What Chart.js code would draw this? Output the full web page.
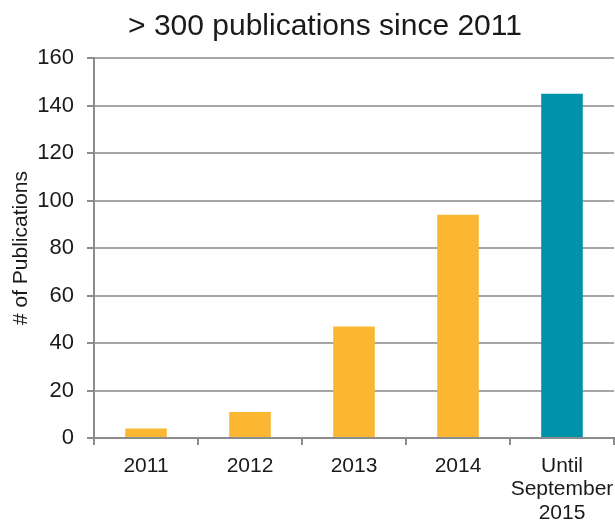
<!DOCTYPE html>
<html>
<head>
<meta charset="utf-8">
<title>Publications since 2011</title>
<script src="https://cdn.jsdelivr.net/npm/chart.js@4/dist/chart.umd.min.js"></script>
<style>
  html, body { margin: 0; padding: 0; background: #fff; }
  #wrap { width: 615px; height: 525px; position: relative; }
</style>
</head>
<body>
<div id="wrap"><canvas id="pubChart"></canvas></div>
<script>
// Data
const categories = ['2011', '2012', '2013', '2014', ['Until', 'September', '2015']];
const publications = [4, 11, 47, 94, 145];
const yMin = 0;
const yMax = 160;
const yStep = 20;
const chartTitle = '> 300 publications since 2011';
const yAxisTitle = '# of Publications';

const colors = {
  past: '#FBB731',
  current: '#0092A8',
  grid: '#a6a6a6',
  axis: '#8c8c8c',
  text: '#1a1a1a'
};
const fontFamily = '"Liberation Sans", Arial, sans-serif';

// Title is centred a bit right of the canvas middle in the original
const offsetTitle = {
  id: 'offsetTitle',
  afterDraw(chart) {
    const ctx = chart.ctx;
    ctx.save();
    ctx.font = '30px ' + fontFamily;
    ctx.fillStyle = colors.text;
    ctx.textAlign = 'center';
    ctx.textBaseline = 'middle';
    ctx.fillText(chartTitle, 325, 27);
    ctx.restore();
  }
};

const ctx = document.getElementById('pubChart').getContext('2d');
new Chart(ctx, {
  type: 'bar',
  data: {
    labels: categories,
    datasets: [{
      data: publications,
      backgroundColor: publications.map((v, i) => i === publications.length - 1 ? colors.current : colors.past),
      barPercentage: 0.4,
      categoryPercentage: 1.0,
      borderWidth: 0
    }]
  },
  options: {
    responsive: true,
    maintainAspectRatio: false,
    animation: false,
    layout: {
      padding: { top: 58, right: 1, bottom: 0, left: 9 }
    },
    plugins: {
      legend: { display: false },
      tooltip: { enabled: false },
      title: { display: false }
    },
    scales: {
      x: {
        offset: true,
        grid: {
          offset: true,
          drawOnChartArea: false,
          drawTicks: true,
          tickLength: 7,
          color: colors.axis,
          lineWidth: 2
        },
        border: { display: true, color: colors.axis, width: 2 },
        ticks: {
          color: colors.text,
          padding: 10,
          maxRotation: 0,
          autoSkip: false,
          font: { family: fontFamily, size: 21, lineHeight: 1.1 }
        },
        afterFit(scale) {
          // the last label may run to the canvas edge, as in the original
          scale.height = 87;
          scale.paddingLeft = 0;
          scale.paddingRight = 0;
        }
      },
      y: {
        min: yMin,
        max: yMax,
        grid: {
          color: colors.grid,
          lineWidth: 2,
          tickLength: 7,
          tickColor: colors.axis
        },
        border: { display: true, color: colors.axis, width: 2 },
        ticks: {
          stepSize: yStep,
          color: colors.text,
          padding: 13,
          font: { family: fontFamily, size: 22 }
        },
        title: {
          display: true,
          text: yAxisTitle,
          color: colors.text,
          padding: { top: 0, bottom: 4 },
          font: { family: fontFamily, size: 21 }
        },
        afterFit(scale) {
          scale.width = 85;
        }
      }
    }
  },
  plugins: [offsetTitle]
});
</script>
</body>
</html>
